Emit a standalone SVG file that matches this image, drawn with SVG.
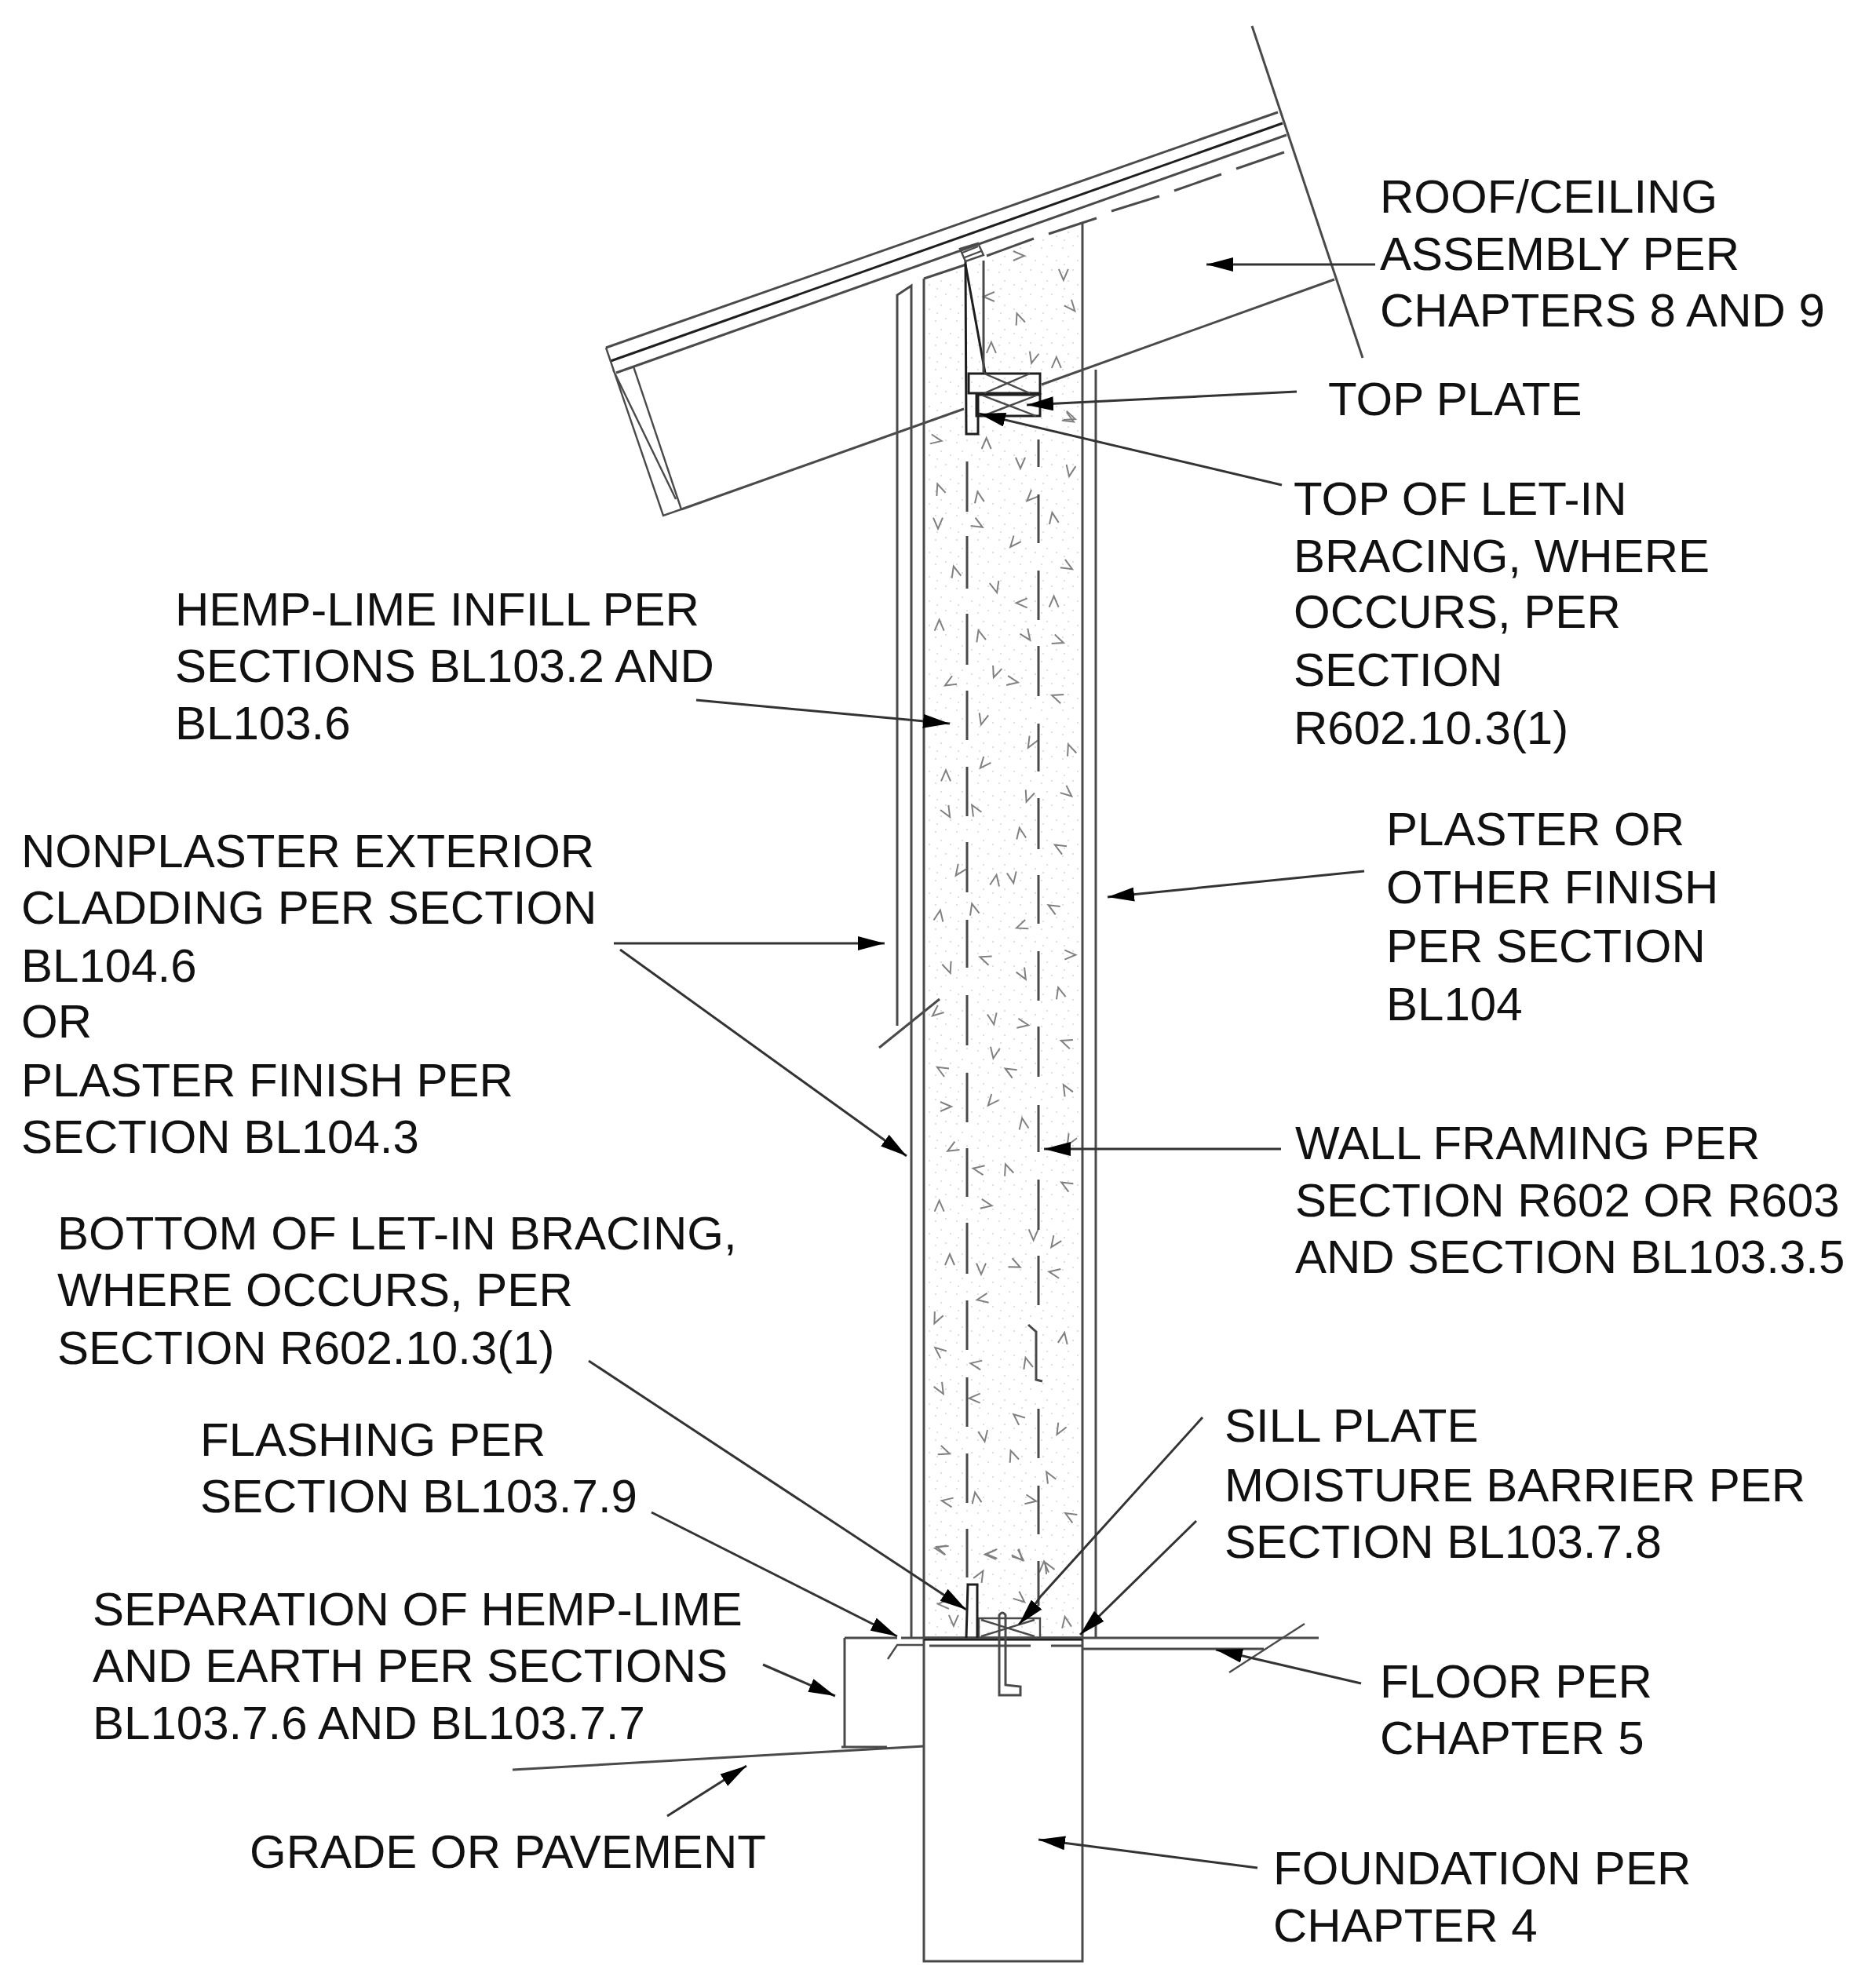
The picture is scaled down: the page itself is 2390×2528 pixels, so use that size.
<svg xmlns="http://www.w3.org/2000/svg" xmlns:xlink="http://www.w3.org/1999/xlink" width="2390" height="2528" viewBox="0 0 2390 2528">
<style>
.l{fill:none;stroke:#4a4a4a;stroke-width:3}
.t{fill:none;stroke:#4a4a4a;stroke-width:2.4}
.k{fill:none;stroke:#1e1e1e;stroke-width:3}
.b{fill:none;stroke:#111;stroke-width:5}
.a{fill:none;stroke:#333;stroke-width:3;marker-end:url(#ah)}
.n{fill:none;stroke:#333;stroke-width:3}
.c{fill:none;stroke:#808080;stroke-width:6}
text{font-family:"Liberation Sans",Arial,sans-serif;font-size:60px;fill:#111}
</style>
<defs>
<marker id="ah" markerUnits="userSpaceOnUse" viewBox="0 0 34 18" refX="34" refY="9" markerWidth="34" markerHeight="18" orient="auto"><path d="M0,0 L34,9 L0,18 z" fill="#000"/></marker>
<path id="c" d="M-18,21 L0,-21 L18,21"/>
<pattern id="st" width="27" height="31" patternUnits="userSpaceOnUse"><g fill="#d4d4d4"><circle cx="4" cy="6" r="1"/><circle cx="17" cy="3" r="1"/><circle cx="11" cy="17" r="1"/><circle cx="23" cy="22" r="1"/><circle cx="6" cy="27" r="1"/></g></pattern>
</defs>
<g id="infill">
<path d="M1180,353 L1232,337 L1379,285 L1379,2086 L1180,2086 z" fill="url(#st)"/>
<g class="c" transform="translate(1100 500) scale(.3333)">
<use xlink:href="#c" transform="translate(278 182) rotate(100)"/><use xlink:href="#c" transform="translate(470 195)"/><use xlink:href="#c" transform="translate(600 270) rotate(180)"/><use xlink:href="#c" transform="translate(790 300) rotate(190)"/><use xlink:href="#c" transform="translate(290 370) rotate(-20)"/><use xlink:href="#c" transform="translate(440 400) rotate(-10)"/><use xlink:href="#c" transform="translate(285 500) rotate(180)"/><use xlink:href="#c" transform="translate(437 505) rotate(120)"/><use xlink:href="#c" transform="translate(575 575) rotate(220)"/><use xlink:href="#c" transform="translate(640 400) rotate(225)"/><use xlink:href="#c" transform="translate(725 480) rotate(-10)"/><use xlink:href="#c" transform="translate(780 665) rotate(120)"/><use xlink:href="#c" transform="translate(350 685) rotate(-15)"/><use xlink:href="#c" transform="translate(505 745) rotate(165)"/><use xlink:href="#c" transform="translate(605 805) rotate(270)"/><use xlink:href="#c" transform="translate(728 800)"/><use xlink:href="#c" transform="translate(290 890)"/><use xlink:href="#c" transform="translate(445 930) rotate(-15)"/><use xlink:href="#c" transform="translate(625 930) rotate(145)"/><use xlink:href="#c" transform="translate(745 950) rotate(110)"/><use xlink:href="#c" transform="translate(505 1070) rotate(200)"/><use xlink:href="#c" transform="translate(570 1105) rotate(100)"/><use xlink:href="#c" transform="translate(330 1110) rotate(240)"/><use xlink:href="#c" transform="translate(740 1165) rotate(290)"/><use xlink:href="#c" transform="translate(455 1250) rotate(195)"/><use xlink:href="#c" transform="translate(640 1340) rotate(210)"/><use xlink:href="#c" transform="translate(790 1365) rotate(-20)"/><use xlink:href="#c" transform="translate(315 1465)"/><use xlink:href="#c" transform="translate(460 1420) rotate(220)"/><use xlink:href="#c" transform="translate(790 95) rotate(110)"/>
</g>
<g class="c" transform="translate(1100 1000) scale(.3333)">
<use xlink:href="#c" transform="translate(320 105) rotate(150)"/><use xlink:href="#c" transform="translate(425 95) rotate(-30)"/><use xlink:href="#c" transform="translate(630 45) rotate(200)"/><use xlink:href="#c" transform="translate(780 30) rotate(130)"/><use xlink:href="#c" transform="translate(600 185) rotate(-10)"/><use xlink:href="#c" transform="translate(750 240) rotate(-60)"/><use xlink:href="#c" transform="translate(365 330) rotate(215)"/><use xlink:href="#c" transform="translate(505 365) rotate(10)"/><use xlink:href="#c" transform="translate(570 355) rotate(170)"/><use xlink:href="#c" transform="translate(420 475) rotate(-15)"/><use xlink:href="#c" transform="translate(290 500) rotate(10)"/><use xlink:href="#c" transform="translate(725 470) rotate(-60)"/><use xlink:href="#c" transform="translate(605 540) rotate(250)"/><use xlink:href="#c" transform="translate(465 665) rotate(-70)"/><use xlink:href="#c" transform="translate(325 700) rotate(160)"/><use xlink:href="#c" transform="translate(790 650) rotate(90)"/><use xlink:href="#c" transform="translate(610 725) rotate(150)"/><use xlink:href="#c" transform="translate(750 795) rotate(-15)"/><use xlink:href="#c" transform="translate(280 870) rotate(230)"/><use xlink:href="#c" transform="translate(495 895) rotate(170)"/><use xlink:href="#c" transform="translate(610 915) rotate(100)"/><use xlink:href="#c" transform="translate(775 985) rotate(-70)"/><use xlink:href="#c" transform="translate(500 1025) rotate(190)"/><use xlink:href="#c" transform="translate(300 1090) rotate(-60)"/><use xlink:href="#c" transform="translate(560 1095) rotate(-60)"/><use xlink:href="#c" transform="translate(775 1165) rotate(-30)"/><use xlink:href="#c" transform="translate(315 1230) rotate(90)"/><use xlink:href="#c" transform="translate(490 1210) rotate(220)"/><use xlink:href="#c" transform="translate(610 1295) rotate(-10)"/><use xlink:href="#c" transform="translate(340 1390) rotate(240)"/><use xlink:href="#c" transform="translate(440 1470) rotate(-80)"/><use xlink:href="#c" transform="translate(550 1470) rotate(-20)"/><use xlink:href="#c" transform="translate(790 1360) rotate(210)"/>
</g>
<g class="c" transform="translate(1100 1500) scale(.3333)">
<use xlink:href="#c" transform="translate(290 110)"/><use xlink:href="#c" transform="translate(470 105) rotate(100)"/><use xlink:href="#c" transform="translate(775 30) rotate(-60)"/><use xlink:href="#c" transform="translate(650 220) rotate(180)"/><use xlink:href="#c" transform="translate(730 250) rotate(215)"/><use xlink:href="#c" transform="translate(330 315)"/><use xlink:href="#c" transform="translate(450 350) rotate(180)"/><use xlink:href="#c" transform="translate(580 335) rotate(115)"/><use xlink:href="#c" transform="translate(730 365) rotate(-80)"/><use xlink:href="#c" transform="translate(455 465) rotate(260)"/><use xlink:href="#c" transform="translate(280 540) rotate(205)"/><use xlink:href="#c" transform="translate(290 665) rotate(-50)"/><use xlink:href="#c" transform="translate(430 715) rotate(-80)"/><use xlink:href="#c" transform="translate(625 710) rotate(-15)"/><use xlink:href="#c" transform="translate(765 615) rotate(10)"/><use xlink:href="#c" transform="translate(295 810) rotate(150)"/><use xlink:href="#c" transform="translate(425 845) rotate(-90)"/><use xlink:href="#c" transform="translate(590 920) rotate(-50)"/><use xlink:href="#c" transform="translate(750 965) rotate(210)"/><use xlink:href="#c" transform="translate(460 990) rotate(170)"/><use xlink:href="#c" transform="translate(310 1050) rotate(110)"/><use xlink:href="#c" transform="translate(570 1065) rotate(-20)"/><use xlink:href="#c" transform="translate(710 1145) rotate(-30)"/><use xlink:href="#c" transform="translate(320 1240) rotate(-80)"/><use xlink:href="#c" transform="translate(430 1225) rotate(-10)"/><use xlink:href="#c" transform="translate(640 1235) rotate(100)"/><use xlink:href="#c" transform="translate(790 1295) rotate(-60)"/><use xlink:href="#c" transform="translate(300 1420) rotate(-70)"/><use xlink:href="#c" transform="translate(490 1440) rotate(-90)"/><use xlink:href="#c" transform="translate(595 1450) rotate(130)"/><use xlink:href="#c" transform="translate(690 1490)"/>
</g>
<g class="c" transform="scale(.3333)">
<use xlink:href="#c" transform="translate(3894 978) rotate(90)"/><use xlink:href="#c" transform="translate(4065 1050) rotate(180)"/><use xlink:href="#c" transform="translate(3780 1134) rotate(270)"/><use xlink:href="#c" transform="translate(4095 1173) rotate(140)"/><use xlink:href="#c" transform="translate(3894 1218) rotate(-20)"/><use xlink:href="#c" transform="translate(3789 1329)"/><use xlink:href="#c" transform="translate(3948 1368) rotate(195)"/><use xlink:href="#c" transform="translate(4038 1386)"/><use xlink:href="#c" transform="translate(4086 1602) rotate(120)"/>
<use xlink:href="#c" transform="translate(3594 5922) rotate(-80)"/><use xlink:href="#c" transform="translate(3786 5943) rotate(-90)"/><use xlink:href="#c" transform="translate(3894 5949) rotate(140)"/><use xlink:href="#c" transform="translate(4005 5991) rotate(-30)"/><use xlink:href="#c" transform="translate(3747 6024) rotate(30)"/><use xlink:href="#c" transform="translate(3900 6111) rotate(130)"/><use xlink:href="#c" transform="translate(3645 6195) rotate(180)"/><use xlink:href="#c" transform="translate(4074 6201) rotate(-10)"/><use xlink:href="#c" transform="translate(3606 6132) rotate(-90)"/>
</g>
</g>
<g id="roof">
<path class="l" d="M772,443 L1628,143"/>
<path class="k" d="M778,460 L1634,157"/>
<path class="l" d="M785,475 L1639,172"/>
<path class="l" d="M1231,337 L1177,355 M1257,326 L1317,304 M1336,298 L1397,278 M1416,269 L1477,250 M1496,243 L1556,222 M1575,215 L1636,194"/>
<path class="t" d="M772,443 L845,657 L868,649 L807,467 M781,471 L861,636"/>
<path class="l" d="M868,649 L1228,521 M1327,490 L1700,356"/>
<path class="l" d="M1595,33 L1736,456"/>
</g>
<g id="wall">
<path class="l" d="M1143,1307 L1143,376 L1161,364 L1161,2087"/>
<path class="l" d="M1177,355 L1177,2499 L1379,2499 L1379,285"/>
<path class="l" d="M1396,471 L1396,2087"/>
<path class="l" d="M1120,1335 L1197,1273"/>
<path class="l" d="M1232,588V652M1232,683V750M1232,782V847M1232,880V943M1232,977V1040M1232,1073V1137M1232,1172V1233M1232,1268V1332M1232,1367V1430M1232,1463V1525M1232,1558V1623M1232,1657V1720M1232,1755V1818M1232,1852V1915M1232,1948V2010"/>
<path class="l" d="M1323,560V595M1323,630V692M1323,727V790M1323,823V887M1323,922V983M1323,1017V1082M1323,1115V1177M1323,1212V1275M1323,1308V1372M1323,1408V1468M1323,1503V1567M1323,1600V1663M1310,1688L1320,1697V1758L1328,1760M1323,1795V1858M1323,1893V1955M1323,1989V2046"/>
</g>
<g id="top-plate">
<rect class="k" x="1234" y="476" width="91" height="25"/>
<rect class="k" x="1244" y="503" width="81" height="27"/>
<path class="t" d="M1254,476 L1312,501 M1254,501 L1312,476 M1252,504 L1320,530 M1252,530 L1320,504"/>
<path class="k" d="M1230,332 L1231,553 L1246,553 L1246,503"/>
<path class="k" d="M1230,337 L1255,475"/>
<path class="l" d="M1253,332 V475"/>
<path class="t" d="M1223,317 L1246,310 L1253,325 L1230,333 z M1226,322 L1246,314 M1229,328 L1250,320"/>
</g>
<g id="sill">
<path class="b" d="M1177,2088 L1379,2088"/>
<path class="l" d="M1076,2087 L1143,2087 M1148,2087 L1680,2087"/>
<path class="l" d="M1184,2097 L1313,2097 M1339,2097 L1378,2097"/>
<path class="l" d="M1380,2101 L1610,2101"/>
<path class="t" d="M1131,2114 L1143,2096 L1177,2096"/>
<path class="t" d="M1566,2131 L1662,2069"/>
<path class="t" d="M1247,2087 L1247,2062 L1325,2062 L1325,2087 M1250,2085 L1318,2064 M1250,2064 L1318,2085"/>
<path class="k" d="M1231,2087 L1233,2019 L1245,2019 L1245,2087"/>
<path class="l" d="M1273,2058 Q1277,2052 1281,2058 L1281,2147 L1300,2149 L1300,2160 L1273,2160 z"/>
<path class="l" d="M1076,2087 L1076,2226 M1072,2226 L1130,2226"/>
<path class="l" d="M653,2255 L1177,2225"/>
</g>
<g id="connectors">
<path class="a" d="M1752,337 L1537,337"/>
<path class="a" d="M1652,499 L1308,516"/>
<path class="a" d="M1633,618 L1247,527"/>
<path class="a" d="M887,892 L1210,922"/>
<path class="a" d="M782,1202 L1127,1202"/>
<path class="a" d="M790,1210 L1155,1473"/>
<path class="a" d="M1738,1110 L1411,1143"/>
<path class="a" d="M1632,1464 L1330,1464"/>
<path class="a" d="M750,1734 L1231,2051"/>
<path class="a" d="M830,1927 L1143,2085"/>
<path class="a" d="M972,2121 L1064,2161"/>
<path class="a" d="M1532,1806 L1325,2035 Q1314,2052 1298,2070"/>
<path class="a" d="M1524,1938 L1376,2083"/>
<path class="a" d="M1734,2145 L1549,2102"/>
<path class="a" d="M850,2314 L951,2250"/>
<path class="a" d="M1602,2380 L1323,2344"/>
</g>
<g id="labels">
<text x="1758" y="271">ROOF/CEILING</text><text x="1758" y="344">ASSEMBLY PER</text><text x="1758" y="416">CHAPTERS 8 AND 9</text>
<text x="1692" y="529">TOP PLATE</text>
<text x="1648" y="656">TOP OF LET-IN</text><text x="1648" y="729">BRACING, WHERE</text><text x="1648" y="800">OCCURS, PER</text><text x="1648" y="874">SECTION</text><text x="1648" y="948">R602.10.3(1)</text>
<text x="223" y="797">HEMP-LIME INFILL PER</text><text x="223" y="869">SECTIONS BL103.2 AND</text><text x="223" y="942">BL103.6</text>
<text x="27" y="1105">NONPLASTER EXTERIOR</text><text x="27" y="1177">CLADDING PER SECTION</text><text x="27" y="1251">BL104.6</text><text x="27" y="1322">OR</text><text x="27" y="1397">PLASTER FINISH PER</text><text x="27" y="1469">SECTION BL104.3</text>
<text x="1766" y="1077">PLASTER OR</text><text x="1766" y="1151">OTHER FINISH</text><text x="1766" y="1226">PER SECTION</text><text x="1766" y="1300">BL104</text>
<text x="1650" y="1477">WALL FRAMING PER</text><text x="1650" y="1550">SECTION R602 OR R603</text><text x="1650" y="1622">AND SECTION BL103.3.5</text>
<text x="73" y="1592">BOTTOM OF LET-IN BRACING,</text><text x="73" y="1664">WHERE OCCURS, PER</text><text x="73" y="1738">SECTION R602.10.3(1)</text>
<text x="255" y="1855">FLASHING PER</text><text x="255" y="1927">SECTION BL103.7.9</text>
<text x="1560" y="1837">SILL PLATE</text><text x="1560" y="1913">MOISTURE BARRIER PER</text><text x="1560" y="1985">SECTION BL103.7.8</text>
<text x="118" y="2071">SEPARATION OF HEMP-LIME</text><text x="118" y="2143">AND EARTH PER SECTIONS</text><text x="118" y="2216">BL103.7.6 AND BL103.7.7</text>
<text x="1758" y="2163">FLOOR PER</text><text x="1758" y="2235">CHAPTER 5</text>
<text x="318" y="2380">GRADE OR PAVEMENT</text>
<text x="1622" y="2401">FOUNDATION PER</text><text x="1622" y="2474">CHAPTER 4</text>
</g>
</svg>
